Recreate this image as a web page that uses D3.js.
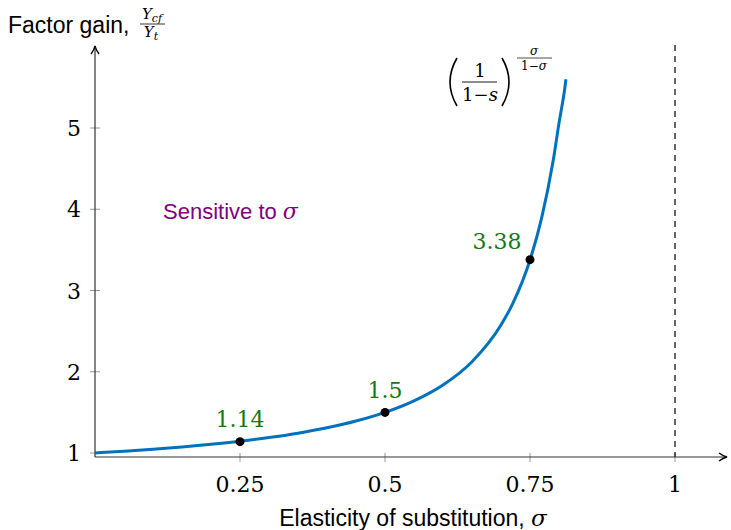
<!DOCTYPE html>
<html>
<head>
<meta charset="utf-8">
<script src="https://cdn.jsdelivr.net/npm/d3@7.9.0/dist/d3.min.js"></script>
<style>
  body { margin: 0; background: #fff; }
  svg { display: block; }
</style>
</head>
<body>
<svg id="chart" width="731" height="530"></svg>
<script>
// Curve samples (sigma -> factor gain)
const sigmaVals = [0, 0.05, 0.1, 0.15, 0.2, 0.25, 0.3, 0.35, 0.4, 0.45, 0.5, 0.55, 0.6, 0.65, 0.7, 0.72, 0.75, 0.77, 0.79, 0.8, 0.81, 0.812];
const gainVals  = [1, 1.022, 1.046, 1.074, 1.107, 1.145, 1.19, 1.244, 1.31, 1.393, 1.5, 1.642, 1.837, 2.124, 2.576, 2.835, 3.375, 3.89, 4.6, 5.06, 5.49, 5.6];

// Marked points
const markSigma = [0.25, 0.5, 0.75];
const markGain  = [1.14, 1.5, 3.38];
const markLabel = ['1.14', '1.5', '3.38'];

const xTicks = [0.25, 0.5, 0.75, 1];
const xTickLabels = ['0.25', '0.5', '0.75', '1'];
const yTicks = [1, 2, 3, 4, 5];

const svg = d3.select('#chart');
const x = d3.scaleLinear().domain([0, 1]).range([95, 675]);
const y = d3.scaleLinear().domain([1, 5]).range([453, 128]);
const axisY = 457;

const serif = "'DejaVu Serif', serif";
const sans = "'Liberation Sans', Arial, sans-serif";

// arrow marker
svg.append('defs').append('marker')
  .attr('id', 'arrow')
  .attr('viewBox', '0 0 10 10')
  .attr('refX', 9).attr('refY', 5)
  .attr('markerWidth', 10).attr('markerHeight', 10)
  .attr('markerUnits', 'userSpaceOnUse')
  .attr('orient', 'auto')
  .append('path')
  .attr('d', 'M1,1 Q5,4 9,5 Q5,6 1,9')
  .attr('fill', 'none').attr('stroke', '#000').attr('stroke-width', 1.3);

// ticks (gray, both sides of axis)
svg.selectAll('.xtick').data(xTicks).join('line')
  .attr('x1', d => x(d)).attr('x2', d => x(d))
  .attr('y1', axisY - 4).attr('y2', axisY + 5)
  .attr('stroke', '#999').attr('stroke-width', 1);
svg.selectAll('.ytick').data(yTicks).join('line')
  .attr('x1', 90).attr('x2', 100)
  .attr('y1', d => y(d)).attr('y2', d => y(d))
  .attr('stroke', '#999').attr('stroke-width', 1);

// dashed asymptote at sigma = 1
svg.append('line')
  .attr('x1', x(1)).attr('x2', x(1))
  .attr('y1', 45).attr('y2', axisY)
  .attr('stroke', '#000').attr('stroke-width', 1.2)
  .attr('stroke-dasharray', '6,5');

// axes
svg.append('line')
  .attr('x1', x(0)).attr('x2', 727)
  .attr('y1', axisY).attr('y2', axisY)
  .attr('stroke', '#333').attr('stroke-width', 1.2)
  .attr('marker-end', 'url(#arrow)');
svg.append('line')
  .attr('x1', x(0)).attr('x2', x(0))
  .attr('y1', axisY).attr('y2', 46)
  .attr('stroke', '#333').attr('stroke-width', 1.2)
  .attr('marker-end', 'url(#arrow)');

// tick labels
svg.selectAll('.xlab').data(xTicks).join('text')
  .attr('x', d => x(d)).attr('y', 492)
  .attr('text-anchor', 'middle')
  .attr('font-family', serif).attr('font-size', 22)
  .text((d, i) => xTickLabels[i]);
svg.selectAll('.ylab').data(yTicks).join('text')
  .attr('x', 81).attr('y', d => y(d) + 8)
  .attr('text-anchor', 'end')
  .attr('font-family', serif).attr('font-size', 22)
  .text(d => d);

// curve
const pts = sigmaVals.map((s, i) => [s, gainVals[i]]);
svg.append('path')
  .datum(pts)
  .attr('fill', 'none')
  .attr('stroke', '#0072BD')
  .attr('stroke-width', 3)
  .attr('d', d3.line().x(d => x(d[0])).y(d => y(d[1])).curve(d3.curveMonotoneX));

// marked points
svg.selectAll('.dot').data(markSigma).join('circle')
  .attr('cx', d => x(d)).attr('cy', (d, i) => y(markGain[i]))
  .attr('r', 4.5).attr('fill', '#000');

const labelDx = [0, 0, -33];
const labelDy = [-15, -14, -11];
svg.selectAll('.mlab').data(markSigma).join('text')
  .attr('x', (d, i) => x(d) + labelDx[i])
  .attr('y', (d, i) => y(markGain[i]) + labelDy[i])
  .attr('text-anchor', 'middle')
  .attr('font-family', serif).attr('font-size', 22)
  .attr('fill', '#137a13')
  .text((d, i) => markLabel[i]);

// annotation
svg.append('text')
  .attr('x', 163).attr('y', 219)
  .attr('font-family', sans).attr('font-size', 22)
  .attr('fill', '#800080')
  .text('Sensitive to ')
  .append('tspan')
  .attr('font-family', serif).attr('font-style', 'italic')
  .text('σ');

// axis titles
const xt = svg.append('text')
  .attr('x', 413).attr('y', 526)
  .attr('text-anchor', 'middle')
  .attr('font-family', sans).attr('font-size', 23)
  .text('Elasticity of substitution, ');
xt.append('tspan').attr('font-family', serif).attr('font-style', 'italic').text('σ');

svg.append('text')
  .attr('x', 8).attr('y', 33)
  .attr('font-family', sans).attr('font-size', 23)
  .text('Factor gain,');
// fraction Y_cf / Y_t
const fr = svg.append('g').attr('font-family', serif).attr('font-style', 'italic').attr('font-size', 15);
fr.append('text').attr('x', 152).attr('y', 19).attr('text-anchor', 'middle')
  .text('Y').append('tspan').attr('font-size', 11).attr('dy', 3).text('cf');
fr.append('line').attr('x1', 140).attr('x2', 165).attr('y1', 24).attr('y2', 24)
  .attr('stroke', '#000').attr('stroke-width', 0.8);
fr.append('text').attr('x', 151).attr('y', 37).attr('text-anchor', 'middle')
  .text('Y').append('tspan').attr('font-size', 11).attr('dy', 3).text('t');

// formula (1/(1-s))^(sigma/(1-sigma))
const fm = svg.append('g').attr('font-family', serif);
fm.append('path').attr('d', 'M457,58 Q443,82 457,106').attr('fill', 'none')
  .attr('stroke', '#000').attr('stroke-width', 1.6);
fm.append('path').attr('d', 'M502,58 Q516,82 502,106').attr('fill', 'none')
  .attr('stroke', '#000').attr('stroke-width', 1.6);
fm.append('text').attr('x', 480).attr('y', 77).attr('text-anchor', 'middle').attr('font-size', 18).text('1');
fm.append('line').attr('x1', 462).attr('x2', 497).attr('y1', 82).attr('y2', 82)
  .attr('stroke', '#000').attr('stroke-width', 0.9);
const den = fm.append('text').attr('x', 480).attr('y', 101).attr('text-anchor', 'middle').attr('font-size', 18);
den.append('tspan').text('1−');
den.append('tspan').attr('font-style', 'italic').text('s');
fm.append('text').attr('x', 534).attr('y', 55).attr('text-anchor', 'middle')
  .attr('font-size', 12).attr('font-style', 'italic').text('σ');
fm.append('line').attr('x1', 517).attr('x2', 552).attr('y1', 58).attr('y2', 58)
  .attr('stroke', '#000').attr('stroke-width', 0.7);
const ed = fm.append('text').attr('x', 534).attr('y', 70).attr('text-anchor', 'middle').attr('font-size', 12);
ed.append('tspan').text('1−');
ed.append('tspan').attr('font-style', 'italic').text('σ');
</script>
</body>
</html>
